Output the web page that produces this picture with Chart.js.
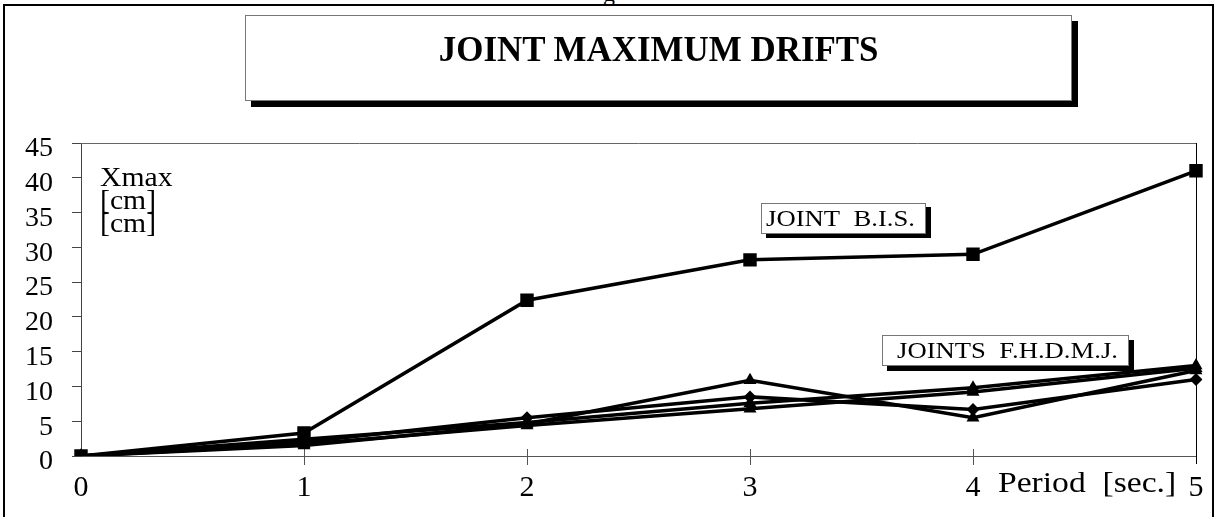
<!DOCTYPE html>
<html lang="en">
<head>
  <meta charset="UTF-8">
  <title>Joint Maximum Drifts</title>
  <style>
    body {
      margin: 0;
      width: 1218px;
      height: 517px;
      overflow: hidden;
      background: #ffffff;
      font-family: "Liberation Serif", "Times New Roman", serif;
      color: #000;
      position: relative;
    }
    #frame {
      position: absolute;
      left: 3px;
      top: 4px;
      width: 1207px;
      height: 600px;
      border: 2px solid #000;
    }
    #cut {
      position: absolute;
      left: 603px;
      top: -20px;
      font-size: 24px;
    }
    canvas {
      position: absolute;
      left: 0;
      top: 0;
    }
    .box {
      position: absolute;
      background: #fff;
      border: 1px solid #777;
      box-sizing: border-box;
      white-space: nowrap;
    }
    .wide {
      display: inline-block;
      transform-origin: left center;
    }
    #title {
      left: 245px;
      top: 15px;
      width: 827px;
      height: 86px;
      box-shadow: 6px 6px 0 #000;
      font-weight: bold;
      font-size: 36px;
      text-align: center;
      line-height: 40px;
      padding-top: 13px;
    }
    #title .wide {
      transform: scaleX(0.97);
      transform-origin: center center;
    }
    #bis {
      left: 761px;
      top: 203px;
      width: 165px;
      height: 31px;
      box-shadow: 5px 4px 0 #000;
      font-size: 23px;
      line-height: 29px;
      padding-left: 4px;
    }
    #fhdmj {
      left: 882px;
      top: 335px;
      width: 247px;
      height: 31px;
      box-shadow: 5px 5px 0 #000;
      font-size: 23px;
      line-height: 29px;
      padding-left: 14px;
    }
    #bis .wide, #fhdmj .wide {
      transform: scaleX(1.16);
    }
    .note {
      position: absolute;
      white-space: nowrap;
      transform-origin: left top;
    }
  </style>
</head>
<body>
  <div id="cut">g</div>
  <div id="frame"></div>
  <canvas id="drifts" width="1218" height="517"></canvas>

  <div id="title" class="box"><span class="wide">JOINT MAXIMUM DRIFTS</span></div>
  <div id="bis" class="box"><span class="wide">JOINT&nbsp; B.I.S.</span></div>
  <div id="fhdmj" class="box"><span class="wide">JOINTS&nbsp; F.H.D.M.J.</span></div>

  <div class="note" style="left:100px; top:166px; font-size:27px; line-height:23px; transform:scaleX(1.1);">Xmax<br>[cm]<br>[cm]</div>
  <div class="note" style="left:998px; top:465px; font-size:30px; transform:scaleX(1.12);">Period&nbsp; [sec.]</div>

  <script src="https://cdn.jsdelivr.net/npm/chart.js"></script>
  <script>
    // period labels on the x axis
    const periods = ['0', '1', '2', '3', '4', '5'];
    const yTicks = [0, 5, 10, 15, 20, 25, 30, 35, 40, 45];

    // joint B.I.S.
    const jointBIS = [0, 3.3, 22.4, 28.2, 29.0, 41.0];
    // joints F.H.D.M.J.
    const jointF = [0, 1.5, 4.6, 10.9, 5.5, 12.3];
    const jointH = [0, 2.0, 5.5, 8.5, 6.7, 11.0];
    const jointD = [0, 2.4, 4.8, 7.6, 9.8, 13.0];
    const jointM = [0, 1.7, 4.4, 6.8, 9.2, 12.6];

    const serif = '"Liberation Serif", "Times New Roman", serif';
    Chart.defaults.font.family = serif;
    Chart.defaults.color = '#000';

    function line(label, data, style, radius) {
      return {
        label: label,
        data: data,
        borderColor: '#000',
        backgroundColor: '#000',
        borderWidth: 3.5,
        pointStyle: style,
        pointRadius: radius,
        pointBorderWidth: 0,
        pointBackgroundColor: '#000',
        tension: 0
      };
    }

    // frame of the plot area and the x ticks that cross the axis
    const plotFrame = {
      id: 'plotFrame',
      beforeDatasetsDraw(chart) {
        const ctx = chart.ctx;
        const x = chart.scales.x;
        const a = chart.chartArea;
        ctx.save();
        ctx.lineWidth = 1;
        ctx.strokeStyle = '#666';
        ctx.beginPath();
        ctx.moveTo(a.left, a.top + 0.5);
        ctx.lineTo(a.right, a.top + 0.5);
        ctx.stroke();
        ctx.strokeStyle = '#000';
        ctx.beginPath();
        ctx.moveTo(a.right + 0.5, a.top);
        ctx.lineTo(a.right + 0.5, a.bottom + 8);
        ctx.stroke();
        ctx.strokeStyle = '#555';
        for (let i = 1; i < periods.length - 1; i++) {
          const px = Math.round(x.getPixelForValue(i)) + 0.5;
          ctx.beginPath();
          ctx.moveTo(px, a.bottom - 7);
          ctx.lineTo(px, a.bottom + 9);
          ctx.stroke();
        }
        ctx.restore();
      }
    };

    new Chart(document.getElementById('drifts'), {
      type: 'line',
      data: {
        labels: periods,
        datasets: [
          line('JOINT F', jointF, 'triangle', 7.5),
          line('JOINT H', jointH, 'rectRot', 6.5),
          line('JOINT D', jointD, 'triangle', 7.5),
          line('JOINT M', jointM, 'triangle', 7.5),
          line('JOINT B.I.S.', jointBIS, 'rect', 9.5)
        ]
      },
      options: {
        responsive: false,
        animation: false,
        devicePixelRatio: 1,
        layout: { padding: { left: 0, top: 143, right: 22, bottom: 0 } },
        plugins: {
          legend: { display: false },
          tooltip: { enabled: false }
        },
        scales: {
          x: {
            type: 'category',
            offset: false,
            grid: { display: false },
            border: { display: true, color: '#555', width: 1 },
            ticks: {
              font: { size: 30 },
              padding: 6,
              maxRotation: 0,
              autoSkip: false
            },
            afterFit(s) { s.height = 61; }
          },
          y: {
            min: 0,
            max: 45,
            afterBuildTicks(s) { s.ticks = yTicks.map(v => ({ value: v })); },
            grid: {
              drawOnChartArea: false,
              drawTicks: true,
              tickLength: 9,
              color: '#444'
            },
            border: { display: true, color: '#444', width: 1 },
            ticks: {
              font: { size: 28 },
              padding: 19,
              labelOffset: 6,
              autoSkip: false
            },
            afterFit(s) { s.width = 81; }
          }
        }
      },
      plugins: [plotFrame]
    });
  </script>
</body>
</html>
